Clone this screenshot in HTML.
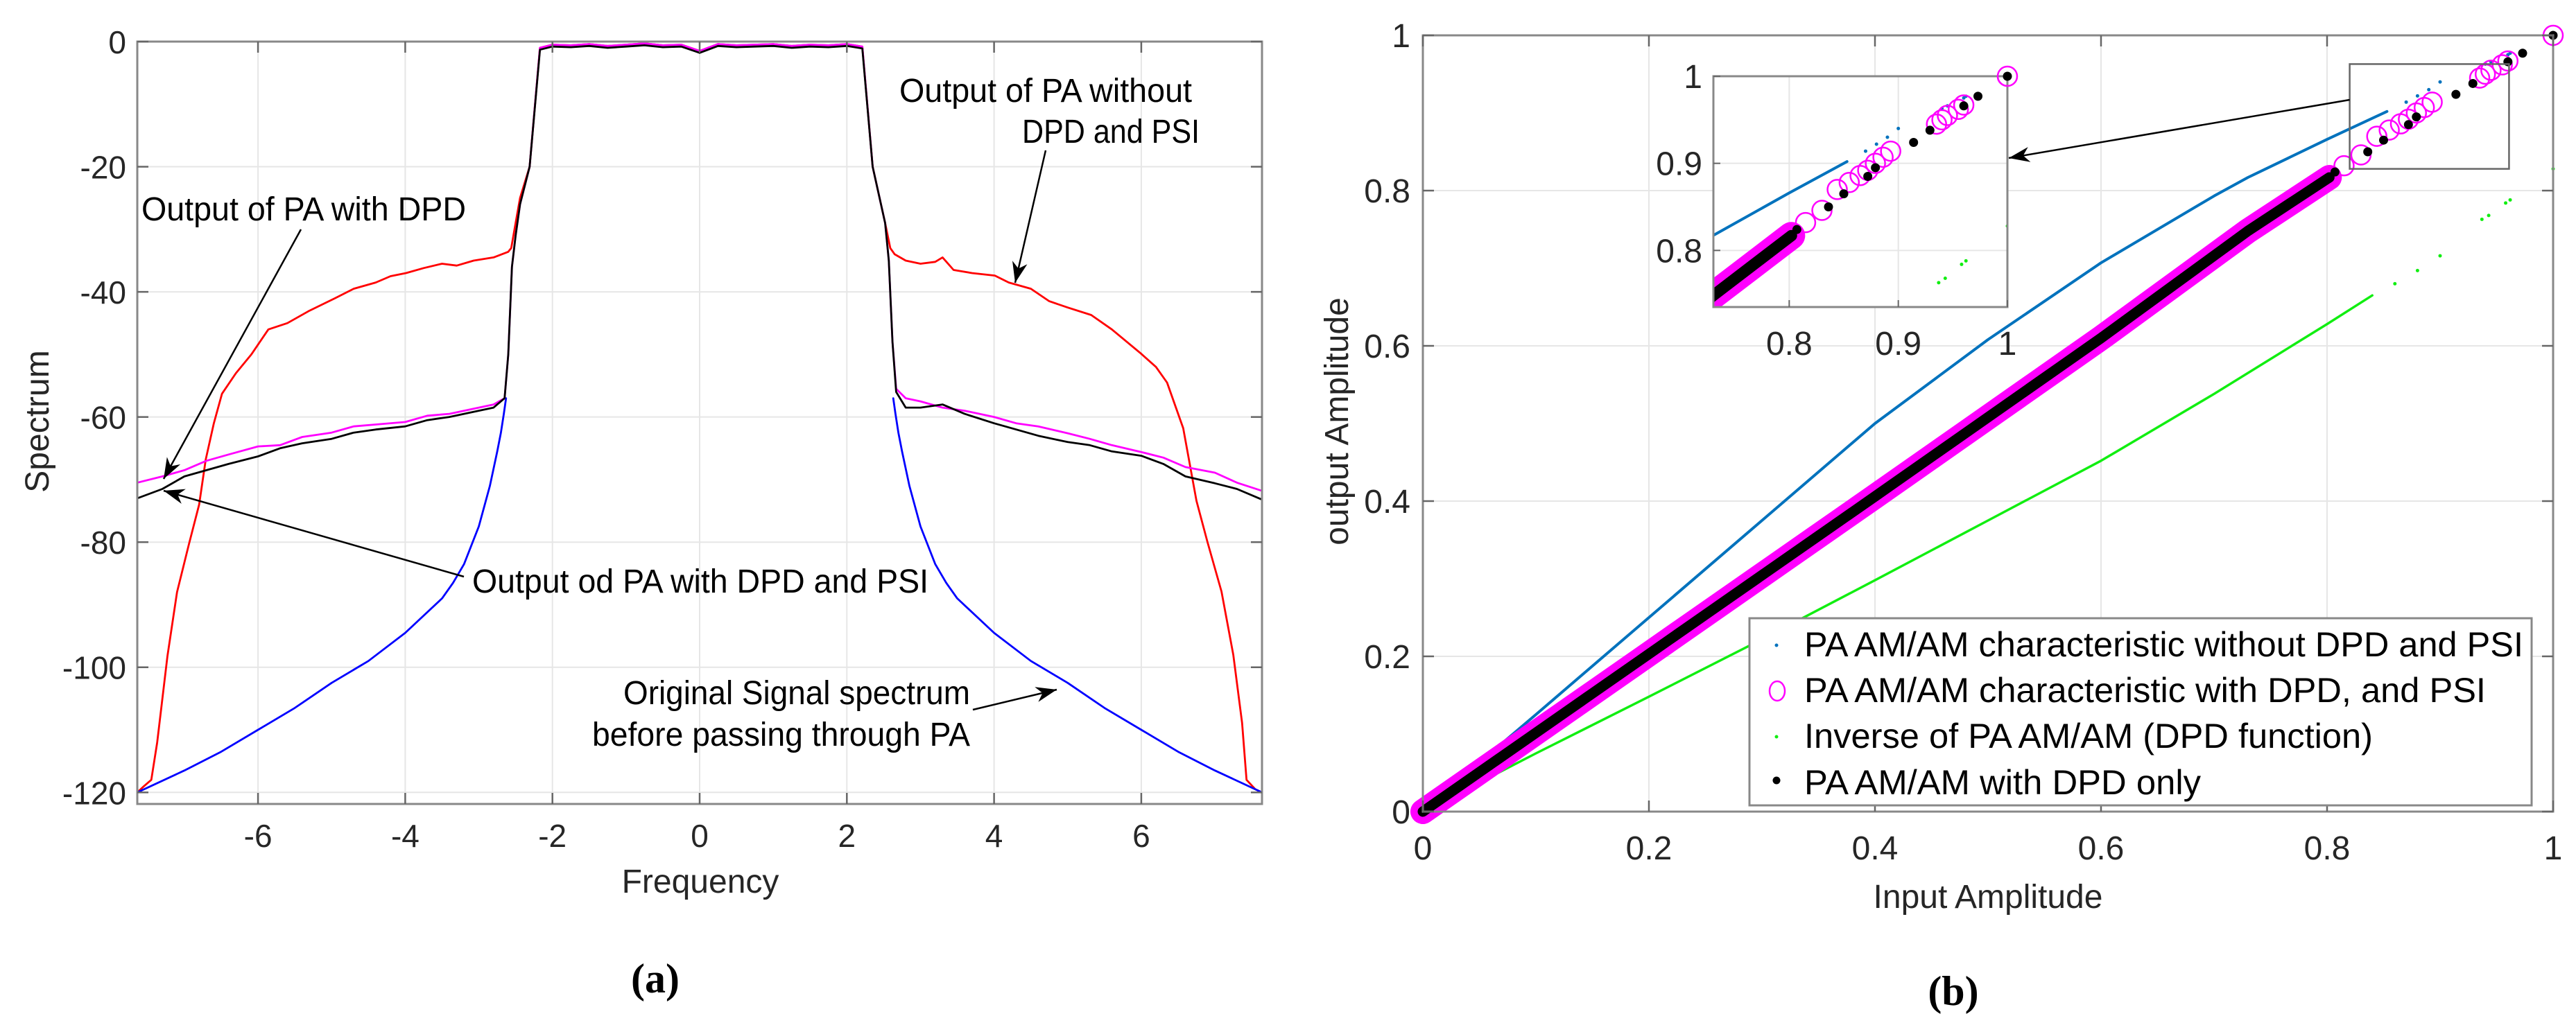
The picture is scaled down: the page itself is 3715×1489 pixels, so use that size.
<!DOCTYPE html>
<html><head><meta charset="utf-8"><style>
html,body{margin:0;padding:0;background:#fff}
svg{display:block}
text{font-family:"Liberation Sans",Arial,sans-serif;fill:#262626}
</style></head><body>
<svg id="fig" xmlns="http://www.w3.org/2000/svg" width="3715" height="1489" viewBox="0 0 3715 1489">
<defs>
<clipPath id="clipA"><rect x="198" y="60" width="1622" height="1100"/></clipPath>
<clipPath id="clipB"><rect x="2052" y="51" width="1630" height="1120"/></clipPath>
<clipPath id="clipI"><rect x="2471" y="110" width="424" height="333"/></clipPath>
</defs>
<g id="panelA"></g>
<g id="panelB"></g>
</svg>
<script>
// ---------- Panel (a) data ----------
const passF = [-2.17,-2.0,-1.75,-1.5,-1.25,-1.0,-0.75,-0.5,-0.25,0,0.25,0.5,0.75,1.0,1.25,1.5,1.75,2.0,2.21];
const passDb = [-1.0,-0.5,-0.6,-0.4,-0.7,-0.5,-0.3,-0.6,-0.5,-1.5,-0.4,-0.6,-0.5,-0.4,-0.7,-0.5,-0.6,-0.4,-0.8];
const redLeftF = [-7.64,-7.55,-7.45,-7.37,-7.23,-7.1,-6.94,-6.8,-6.71,-6.6,-6.49,-6.3,-6.09,-5.86,-5.6,-5.3,-4.95,-4.7,-4.4,-4.2,-3.99,-3.75,-3.5,-3.3,-3.07,-2.8,-2.6,-2.56,-2.5,-2.44,-2.31];
const redLeftDb = [-120,-119,-118,-112,-98.2,-88,-80.4,-74,-66.8,-61,-56.3,-53,-50,-46,-45,-43,-41,-39.5,-38.5,-37.5,-37,-36.2,-35.5,-35.8,-35,-34.5,-33.6,-33,-29,-25,-20];
const redRightF = [2.35,2.52,2.59,2.65,2.8,3.0,3.2,3.3,3.45,3.7,4.01,4.2,4.5,4.75,5.0,5.32,5.6,5.99,6.2,6.35,6.57,6.75,6.9,7.09,7.25,7.37,7.43,7.55,7.64];
const redRightDb = [-20,-29,-33,-34,-35,-35.5,-35.2,-34.5,-36.5,-37,-37.4,-38.5,-39.5,-41.5,-42.5,-43.7,-46,-49.8,-52,-54.5,-61.8,-73.4,-80,-87.9,-98,-108.9,-118,-119.5,-120];
const dpdLeftF = [-7.64,-7.3,-7.0,-6.7,-6.4,-6.0,-5.7,-5.4,-5.0,-4.7,-4.4,-4.0,-3.7,-3.4,-3.0,-2.8,-2.65,-2.6,-2.55,-2.5,-2.44,-2.31];
const magLeftDb = [-70.5,-69.5,-68.5,-67,-66,-64.7,-64.5,-63.2,-62.5,-61.5,-61.2,-60.8,-59.8,-59.5,-58.5,-58,-57,-50,-36,-31,-26,-20];
const blkLeftDb = [-73,-71.5,-69.5,-68.5,-67.5,-66.3,-65,-64.2,-63.5,-62.5,-62,-61.5,-60.5,-60,-59,-58.5,-57,-50,-36,-31,-26,-20];
const dpdRightF = [2.35,2.52,2.57,2.62,2.67,2.8,3.0,3.3,3.6,4.0,4.3,4.6,5.0,5.3,5.6,6.0,6.3,6.6,7.0,7.3,7.64];
const magRightDb = [-20,-29,-35,-48,-55.5,-57,-57.5,-58.5,-59,-60,-61,-61.5,-62.6,-63.5,-64.5,-65.6,-66.5,-68,-68.9,-70.5,-71.8];
const blkRightDb = [-20,-29,-35,-48,-56,-58.5,-58.5,-58,-59.5,-61,-62,-63,-64,-64.5,-65.5,-66.2,-67.5,-69.5,-70.6,-71.5,-73.2];
const blueLeftF = [-7.64,-7,-6.5,-6,-5.5,-5,-4.5,-4,-3.5,-3.35,-3.2,-3,-2.85,-2.75,-2.7,-2.66,-2.63];
const blueLeftDb = [-120,-116.5,-113.5,-110,-106.5,-102.5,-99,-94.5,-89,-86.5,-83.5,-77.5,-71,-65.5,-62.5,-59.5,-57];
const blueRightF = [2.63,2.66,2.7,2.75,2.85,3,3.2,3.35,3.5,4,4.5,5,5.5,6,6.5,7,7.64];
const blueRightDb = [-57,-59.5,-62.5,-65.5,-71,-77.5,-83.5,-86.5,-89,-94.5,-99,-102.5,-106.5,-110,-113.5,-116.5,-120];
const aXTicks = [-6,-4,-2,0,2,4,6];
const aYTicks = [0,-20,-40,-60,-80,-100,-120];

// ---------- Panel (b) data ----------
const blueX = [0,0.05,0.1,0.2,0.3,0.4,0.5,0.6,0.7,0.73,0.8,0.853];
const blueY = [0,0.063,0.125,0.25,0.375,0.5,0.608,0.707,0.793,0.817,0.866,0.902];
const blueSparseX = [0.87,0.88,0.89,0.9,0.94,0.945,0.96,0.962];
const blueSparseY = [0.914,0.922,0.93,0.94,0.963,0.966,0.975,0.977];
const dpdX = [0,0.2,0.4,0.6,0.73,0.802];
const dpdY = [0,0.203,0.406,0.61,0.748,0.817];
const magSparseX = [0.815,0.83,0.844,0.855,0.865,0.872,0.879,0.886,0.893,0.935,0.94,0.945,0.955,0.96,1.0];
const magSparseY = [0.832,0.846,0.870,0.878,0.886,0.892,0.9,0.907,0.914,0.945,0.95,0.955,0.962,0.967,1.0];
const blkSparseX = [0.807,0.836,0.85,0.872,0.879,0.914,0.929,0.96,0.973,1.0];
const blkSparseY = [0.824,0.85,0.865,0.885,0.895,0.924,0.938,0.966,0.977,1.0];
const greenX = [0,0.1,0.2,0.3,0.4,0.5,0.6,0.7,0.8,0.84];
const greenY = [0,0.075,0.148,0.222,0.298,0.375,0.452,0.538,0.628,0.665];
const greenSparseX = [0.86,0.88,0.9,0.937,0.943,0.958,0.962,1.0];
const greenSparseY = [0.68,0.697,0.716,0.763,0.768,0.784,0.788,0.828];
const bTicks = [0,0.2,0.4,0.6,0.8,1];
const bTickLabels = ["0","0.2","0.4","0.6","0.8","1"];
const insetTicks = [0.8,0.9,1];
const insetTickLabels = ["0.8","0.9","1"];
const legendLabels = ["PA AM/AM characteristic without DPD and PSI","PA AM/AM characteristic with DPD, and PSI","Inverse of PA AM/AM (DPD function)","PA AM/AM with DPD only"];

const NS = "http://www.w3.org/2000/svg";
function mk(tag, attrs, parent){const e=document.createElementNS(NS,tag);for(const k in attrs)e.setAttribute(k,attrs[k]);if(parent)parent.appendChild(e);return e;}
function txt(parent,x,y,s,size,anchor,extra){const t=mk('text',Object.assign({x:x,y:y,'font-size':size,'text-anchor':anchor||'start'},extra||{}),parent);t.textContent=s;return t;}
function poly(parent,xs,ys,sx,sy,color,w,name){
  const pts=xs.map((v,i)=>sx(v).toFixed(1)+','+sy(ys[i]).toFixed(1)).join(' ');
  const p=mk('polyline',{points:pts,fill:'none',stroke:color,'stroke-width':w,'stroke-linejoin':'round','stroke-linecap':'round'},parent);
  
  
  return p;
}
function arrow(parent,x1,y1,x2,y2,name){
  const g=mk('g',{},parent);
  
  
  mk('line',{x1:x1,y1:y1,x2:x2,y2:y2,stroke:'#000','stroke-width':2.5},g);
  const a=Math.atan2(y2-y1,x2-x1),L=30,W=11;
  const bx=x2-L*Math.cos(a),by=y2-L*Math.sin(a);
  const mx=x2-L*0.7*Math.cos(a),my=y2-L*0.7*Math.sin(a);
  const px=-Math.sin(a)*W,py=Math.cos(a)*W;
  mk('path',{d:`M${x2},${y2} L${bx+px},${by+py} L${mx},${my} L${bx-px},${by-py} Z`,fill:'#000'},g);
}

// ---------- Panel (a) ----------
(function(){
  const g=document.getElementById('panelA');
  const L=198,R=1820,T=60,B=1160,xmin=-7.64,xmax=7.64,ymin=-121.85,ymax=0;
  const sx=v=>L+(v-xmin)/(xmax-xmin)*(R-L);
  const sy=v=>T+(ymax-v)/(ymax-ymin)*(B-T);
  const grid=mk('g',{},g);
  
  
  aXTicks.forEach(v=>mk('line',{x1:sx(v),y1:T,x2:sx(v),y2:B,stroke:'#e6e6e6','stroke-width':2},grid));
  aYTicks.forEach(v=>mk('line',{x1:L,y1:sy(v),x2:R,y2:sy(v),stroke:'#e6e6e6','stroke-width':2},grid));
  const plot=mk('g',{'clip-path':'url(#clipA)'},g);
  poly(plot,redLeftF.concat(passF,redRightF),redLeftDb.concat(passDb,redRightDb),sx,sy,'#ff0000',2.8,'series-pa-without-dpd-psi');
  poly(plot,blueLeftF,blueLeftDb,sx,sy,'#0000ff',2.8,'series-original-left');
  poly(plot,blueRightF,blueRightDb,sx,sy,'#0000ff',2.8,'series-original-right');
  poly(plot,dpdLeftF.concat(passF,dpdRightF),magLeftDb.concat(passDb,magRightDb),sx,sy,'#ff00ff',2.8,'series-pa-with-dpd');
  poly(plot,dpdLeftF.concat(passF,dpdRightF),blkLeftDb.concat(passDb.map(v=>v-0.3),blkRightDb),sx,sy,'#000000',2.8,'series-pa-with-dpd-psi');
  const ax=mk('rect',{x:L,y:T,width:R-L,height:B-T,fill:'none',stroke:'#888','stroke-width':3},g);
  
  
  aXTicks.forEach(v=>{mk('line',{x1:sx(v),y1:B,x2:sx(v),y2:B-16,stroke:'#666','stroke-width':2.5},g);mk('line',{x1:sx(v),y1:T,x2:sx(v),y2:T+16,stroke:'#666','stroke-width':2.5},g);
    const t=txt(g,sx(v),1222,String(v),46,'middle');});
  aYTicks.forEach(v=>{mk('line',{x1:L,y1:sy(v),x2:L+16,y2:sy(v),stroke:'#666','stroke-width':2.5},g);mk('line',{x1:R,y1:sy(v),x2:R-16,y2:sy(v),stroke:'#666','stroke-width':2.5},g);
    const t=txt(g,182,sy(v)+17,String(v),46,'end');});
  let t=txt(g,1010,1288,'Frequency',48,'middle');
  t=txt(g,0,0,'Spectrum',48,'middle',{transform:'translate(70,608) rotate(-90)'});
  const ann=mk('g',{fill:'#000'},g);
  
  
  const A=(x,y,s,len)=>{const e=txt(ann,x,y,s,48,'start',{textLength:len,lengthAdjust:'spacingAndGlyphs',style:'fill:#000'});};
  A(1297,147,'Output of PA without',422);
  A(1474,206,'DPD and PSI',256);
  A(204,318,'Output of PA with DPD',468);
  A(681,855,'Output od PA with DPD and PSI',658);
  A(899,1016,'Original Signal spectrum',500);
  A(854,1076,'before passing through PA',545);
  arrow(ann,1508,217,1464,408,'arrow-without-dpd');
  arrow(ann,434,331,236,691,'arrow-with-dpd');
  arrow(ann,669,832,236,708,'arrow-with-dpd-psi');
  arrow(ann,1403,1024,1524,995,'arrow-original');
  t=txt(g,945,1432,'(a)',60,'middle',{style:'font-family:"Liberation Serif",serif;font-weight:bold;fill:#000'});
})();

// ---------- Panel (b) ----------
(function(){
  const g=document.getElementById('panelB');
  const L=2052,R=3682,T=51,B=1171;
  const sx=v=>L+v*(R-L), sy=v=>B-v*(B-T);
  const grid=mk('g',{},g);
  
  
  bTicks.forEach(v=>{mk('line',{x1:sx(v),y1:T,x2:sx(v),y2:B,stroke:'#e6e6e6','stroke-width':2},grid);mk('line',{x1:L,y1:sy(v),x2:R,y2:sy(v),stroke:'#e6e6e6','stroke-width':2},grid);});
  function drawData(parent,sx,sy,sc){
    poly(parent,greenX,greenY,sx,sy,'#11ee11',3.5,'series-inverse-dpd');
    greenSparseX.forEach((v,i)=>{const c=mk('circle',{cx:sx(v),cy:sy(greenSparseY[i]),r:2.5,fill:'#11ee11'},parent);});
    poly(parent,blueX,blueY,sx,sy,'#0072bd',4,'series-pa-without-dpd');
    blueSparseX.forEach((v,i)=>{const c=mk('circle',{cx:sx(v),cy:sy(blueSparseY[i]),r:2.5,fill:'#0072bd'},parent);});
    poly(parent,dpdX,dpdY,sx,sy,'#ff00ff',36*sc,'series-dpd-psi-band');
    poly(parent,dpdX,dpdY,sx,sy,'#000000',15*sc,'series-dpd-only-band');
    magSparseX.forEach((v,i)=>{const c=mk('circle',{cx:sx(v),cy:sy(magSparseY[i]),r:14,fill:'none',stroke:'#ff00ff','stroke-width':2.5},parent);});
    blkSparseX.forEach((v,i)=>{const c=mk('circle',{cx:sx(v),cy:sy(blkSparseY[i]),r:6.5,fill:'#000'},parent);});
  }
  const plot=mk('g',{},g);
  
  
  drawData(plot,sx,sy,1);
  const ax=mk('rect',{x:L,y:T,width:R-L,height:B-T,fill:'none',stroke:'#888','stroke-width':3},g);
  
  
  bTicks.forEach((v,i)=>{
    mk('line',{x1:sx(v),y1:B,x2:sx(v),y2:B-16,stroke:'#666','stroke-width':2.5},g);mk('line',{x1:sx(v),y1:T,x2:sx(v),y2:T+16,stroke:'#666','stroke-width':2.5},g);
    mk('line',{x1:L,y1:sy(v),x2:L+16,y2:sy(v),stroke:'#666','stroke-width':2.5},g);mk('line',{x1:R,y1:sy(v),x2:R-16,y2:sy(v),stroke:'#666','stroke-width':2.5},g);
    let t=txt(g,sx(v),1240,bTickLabels[i],48,'middle');
    t=txt(g,2034,sy(v)+17,bTickLabels[i],48,'end');
  });
  let t=txt(g,2867,1310,'Input Amplitude',48,'middle');
  t=txt(g,0,0,'output Amplitude',48,'middle',{transform:'translate(1944,608) rotate(-90)'});
  const zb=mk('rect',{x:sx(0.82),y:sy(0.963),width:sx(0.961)-sx(0.82),height:sy(0.828)-sy(0.963),fill:'none',stroke:'#666','stroke-width':2.5},g);
  
  
  arrow(g,sx(0.82),144,2897,228,'zoom-arrow');
  const IL=2471,IR=2895,IT=110,IB=443,ixmin=0.7305,ixmax=1.0,iymin=0.735,iymax=1.0;
  const isx=v=>IL+(v-ixmin)/(ixmax-ixmin)*(IR-IL), isy=v=>IB-(v-iymin)/(iymax-iymin)*(IB-IT);
  const ins=mk('g',{},g);
  
  
  mk('rect',{x:IL,y:IT,width:IR-IL,height:IB-IT,fill:'#fff'},ins);
  insetTicks.forEach(v=>{mk('line',{x1:isx(v),y1:IT,x2:isx(v),y2:IB,stroke:'#e6e6e6','stroke-width':2},ins);mk('line',{x1:IL,y1:isy(v),x2:IR,y2:isy(v),stroke:'#e6e6e6','stroke-width':2},ins);});
  const iplot=mk('g',{'clip-path':'url(#clipI)'},ins);
  drawData(iplot,isx,isy,1.1);
  mk('rect',{x:IL,y:IT,width:IR-IL,height:IB-IT,fill:'none',stroke:'#888','stroke-width':3},ins);
  mk('circle',{cx:isx(1),cy:isy(1),r:14,fill:'none',stroke:'#ff00ff','stroke-width':2.5},ins);
  mk('circle',{cx:isx(1),cy:isy(1),r:6.5,fill:'#000'},ins);
  insetTicks.forEach((v,i)=>{
    mk('line',{x1:isx(v),y1:IB,x2:isx(v),y2:IB-10,stroke:'#666','stroke-width':2},ins);
    mk('line',{x1:IL,y1:isy(v),x2:IL+10,y2:isy(v),stroke:'#666','stroke-width':2},ins);
    let t=txt(ins,isx(v),512,insetTickLabels[i],48,'middle');
    t=txt(ins,2455,isy(v)+17,insetTickLabels[i],48,'end');
  });
  const lg=mk('g',{},g);
  
  
  mk('rect',{x:2523,y:892,width:1128,height:270,fill:'#fff',stroke:'#888','stroke-width':3},lg);
  const base=[947,1013,1079,1146], lens=[1037,983,820,572];
  legendLabels.forEach((s,i)=>{const e=txt(lg,2602,base[i],s,50,'start',{textLength:lens[i],lengthAdjust:'spacingAndGlyphs',style:'fill:#000'});});
  mk('circle',{cx:2562,cy:931,r:2.5,fill:'#0072bd'},lg);
  mk('ellipse',{cx:2563,cy:997,rx:11,ry:14,fill:'none',stroke:'#ff00ff','stroke-width':2.5},lg);
  mk('circle',{cx:2562,cy:1063,r:2.5,fill:'#11ee11'},lg);
  mk('circle',{cx:2562,cy:1126,r:5.5,fill:'#000'},lg);
  t=txt(g,2817,1450,'(b)',60,'middle',{style:'font-family:"Liberation Serif",serif;font-weight:bold;fill:#000'});
})();
</script>
</body></html>
